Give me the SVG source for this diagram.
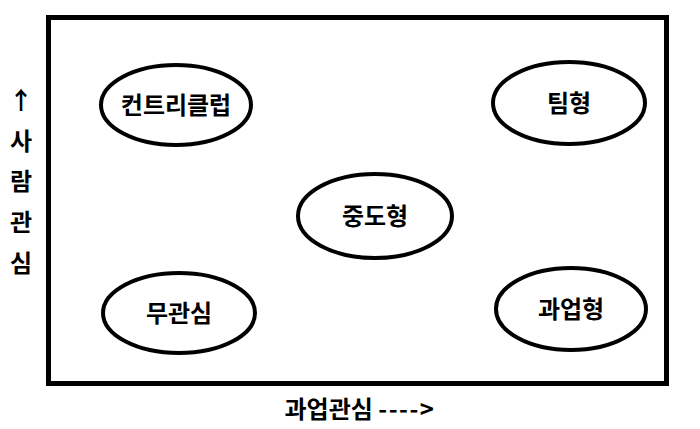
<svg xmlns="http://www.w3.org/2000/svg" width="700" height="429" viewBox="0 0 700 429">
<style>
.frame{fill:none;stroke:#000;stroke-width:5}
.node{fill:#fff;stroke:#000;stroke-width:4}
.t{font-family:"Noto Sans CJK KR","Noto Sans",sans-serif;font-weight:bold;font-size:24px;fill:#000;text-anchor:middle}
</style>
<rect width="700" height="429" fill="#fff"/>
<rect class="frame" x="48.5" y="17.5" width="618" height="366"/>
<g id="connectors"></g>
<g id="n1"><ellipse class="node" cx="176" cy="105" rx="75" ry="40"/><text class="t" x="176" y="114">컨트리클럽</text></g>
<g id="n2"><ellipse class="node" cx="569" cy="103" rx="76" ry="41"/><text class="t" x="569" y="112">팀형</text></g>
<g id="n3"><ellipse class="node" cx="375" cy="216" rx="77" ry="42"/><text class="t" x="375" y="225">중도형</text></g>
<g id="n4"><ellipse class="node" cx="179" cy="313" rx="76" ry="40"/><text class="t" x="179" y="322">무관심</text></g>
<g id="n5"><ellipse class="node" cx="571" cy="309" rx="75" ry="41"/><text class="t" x="571" y="318">과업형</text></g>
<g id="yaxis">
<text class="t" x="21" y="109">↑</text>
<text class="t" x="21" y="150">사</text>
<text class="t" x="21" y="190">람</text>
<text class="t" x="21" y="231">관</text>
<text class="t" x="21" y="272">심</text>
</g>
<text class="t" x="360" y="418">과업관심 <tspan letter-spacing="1.5">----&gt;</tspan></text>
</svg>
